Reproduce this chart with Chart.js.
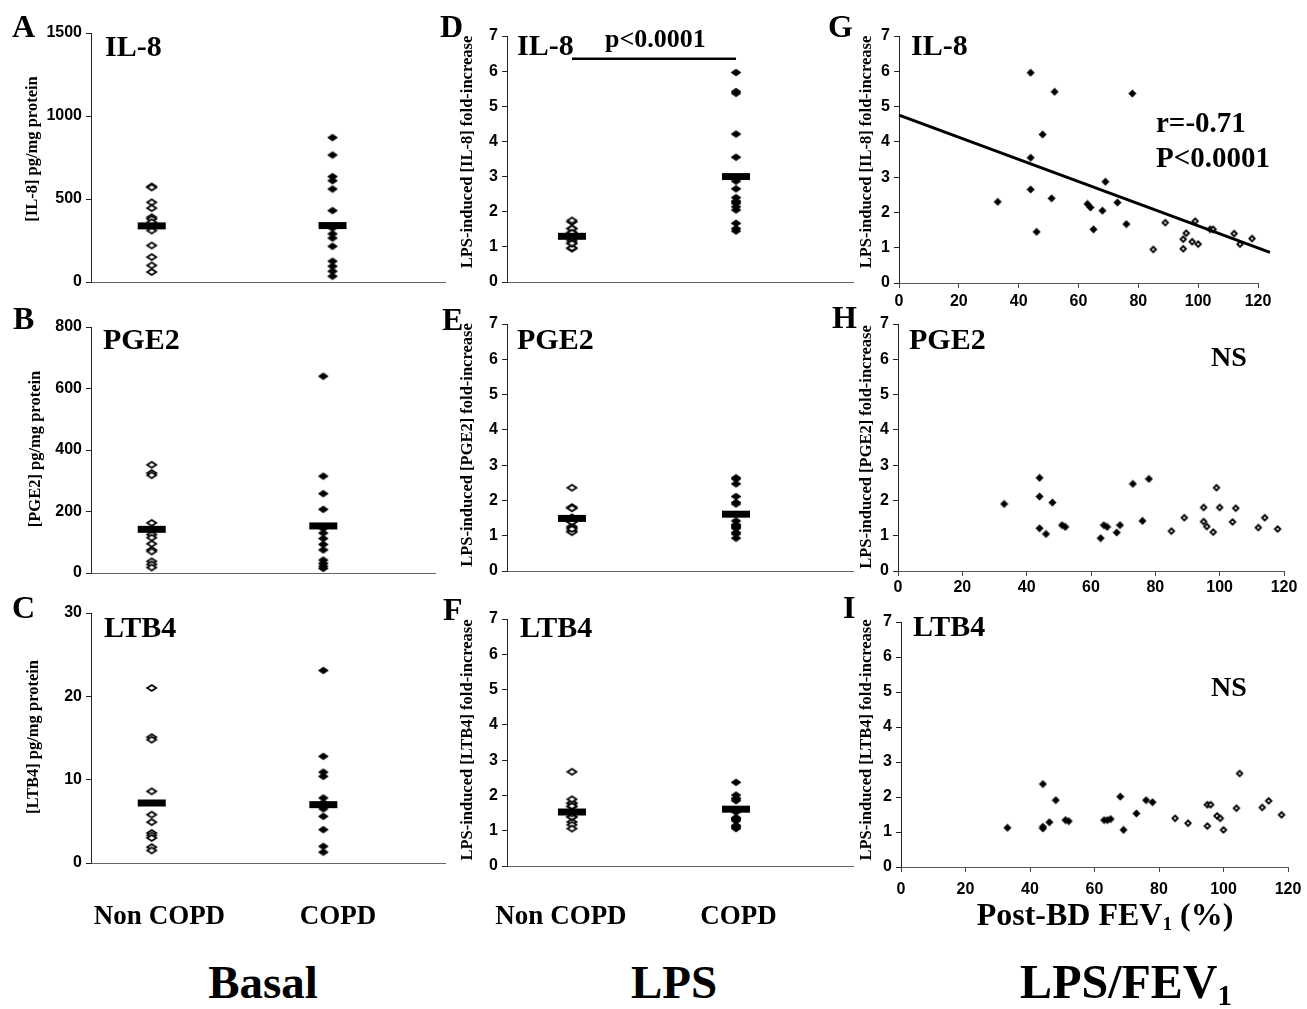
<!DOCTYPE html>
<html>
<head>
<meta charset="utf-8">
<script src="https://cdn.jsdelivr.net/npm/chart.js@4.4.1/dist/chart.umd.min.js"></script>
<style>
body { margin: 0; background: #fff; }
#fig { position: relative; width: 1307px; height: 1009px; overflow: hidden; background: #fff; }
#fig canvas { position: absolute; }
.t { position: absolute; font-family: "Liberation Serif", "Times New Roman", serif; font-weight: bold; line-height: 1; white-space: nowrap; color: #000; }
.yt { position: absolute; font-family: "Liberation Serif", "Times New Roman", serif; font-weight: bold; font-size: 16.5px; line-height: 1; white-space: nowrap; color: #000; transform: translate(-50%, -50%) rotate(-90deg); }
sub { font-size: 0.6em; line-height: 0; vertical-align: -0.25em; }
</style>
</head>
<body>
<div id="fig"></div>
<script>
// --- data ---
var groups = ["Non COPD", "COPD"];

// basal release, pg/mg protein
var il8BasalNon  = [575, 570, 480, 445, 390, 380, 360, 310, 220, 150, 100, 60];
var il8BasalCopd = [870, 765, 635, 610, 560, 430, 325, 290, 265, 215, 125, 95, 65, 35];
var il8BasalMean = [338, 340];
var pge2BasalNon  = [352, 325, 318, 163, 125, 115, 95, 75, 70, 38, 28, 18];
var pge2BasalCopd = [640, 315, 258, 207, 145, 130, 112, 93, 75, 42, 31, 22, 15];
var pge2BasalMean = [142, 153];
var ltb4BasalNon  = [21.0, 15.1, 14.8, 8.6, 5.8, 4.9, 3.6, 3.3, 3.0, 1.9, 1.5];
var ltb4BasalCopd = [23.1, 12.8, 10.9, 10.4, 7.8, 7.2, 6.5, 5.6, 4.0, 2.0, 1.3];
var ltb4BasalMean = [7.2, 7.0];

// post-BD FEV1 (%) per patient
var fev1Non  = [85, 89, 95, 95, 96, 98, 99, 100, 104, 105, 112, 114, 118];
var fev1Copd = [33, 44, 44, 44, 46, 48, 51, 52, 63, 64, 65, 68, 69, 73, 76, 78];

// LPS-induced fold-increase, same patient order as fev1 arrays
var il8LpsNon   = [0.95, 1.71, 1.24, 0.97, 1.41, 1.17, 1.75, 1.10, 1.52, 1.52, 1.40, 1.10, 1.26];
var il8LpsCopd  = [2.30, 5.96, 3.55, 2.65, 1.45, 4.21, 2.40, 5.42, 2.24, 2.14, 1.52, 2.05, 2.87, 2.28, 1.67, 5.37];
var il8LpsMean  = [1.30, 3.00];
var pge2LpsNon  = [1.13, 1.51, 1.80, 1.40, 1.26, 1.10, 2.36, 1.80, 1.39, 1.78, 1.23, 1.51, 1.19];
var pge2LpsCopd = [1.90, 2.64, 2.11, 1.21, 1.05, 1.94, 1.30, 1.25, 0.93, 1.30, 1.25, 1.09, 1.30, 2.47, 1.42, 2.61];
var pge2LpsMean = [1.49, 1.61];
var ltb4LpsNon  = [1.39, 1.25, 1.17, 1.78, 1.78, 1.46, 1.39, 1.06, 1.68, 2.67, 1.70, 1.89, 1.49];
var ltb4LpsCopd = [1.12, 2.37, 1.15, 1.10, 1.28, 1.91, 1.34, 1.31, 1.34, 1.34, 1.37, 2.01, 1.06, 1.53, 1.91, 1.85];
var ltb4LpsMean = [1.53, 1.61];

// regression line in G (ends) and p-value bracket in D
var il8TrendX = [0, 124];
var il8TrendY = [4.76, 0.87];
var bracketY = 6.35;

// tick labels
var il8BasalTicks  = [0, 500, 1000, 1500];
var pge2BasalTicks = [0, 200, 400, 600, 800];
var ltb4BasalTicks = [0, 10, 20, 30];
var foldTicks = [0, 1, 2, 3, 4, 5, 6, 7];
var fev1Ticks = [0, 20, 40, 60, 80, 100, 120];

// --- helpers ---
var fig = document.getElementById('fig');
var SANS = '"Liberation Sans", Arial, sans-serif';

function diamond(w, h, filled, lw) {
    var c = document.createElement('canvas');
    c.width = Math.ceil(w + lw * 2);
    c.height = Math.ceil(h + lw * 2);
    var g = c.getContext('2d');
    var cx = c.width / 2, cy = c.height / 2;
    g.beginPath();
    g.moveTo(cx, cy - h / 2);
    g.lineTo(cx + w / 2, cy);
    g.lineTo(cx, cy + h / 2);
    g.lineTo(cx - w / 2, cy);
    g.closePath();
    g.fillStyle = filled ? '#000' : '#fff';
    g.fill();
    g.lineWidth = lw;
    g.strokeStyle = '#000';
    g.stroke();
    return c;
}
var stripFilled = diamond(10, 7, true, 0.6);
var stripOpen = diamond(9, 6, false, 1.8);
var dotFilled = diamond(7.5, 7.5, true, 0.5);
var dotOpen = diamond(5.5, 5.5, false, 1.8);

function strip(vals, pos) { return vals.map(function (v) { return { x: pos, y: v }; }); }
function pairs(xs, ys) { return xs.map(function (x, i) { return { x: x, y: ys[i] }; }); }

function pts(data, img) {
    return { data: data, pointStyle: img, pointRadius: 4, pointHoverRadius: 4 };
}
function meanBar(pos, v) {
    return { data: [{ x: pos, y: v }], pointStyle: 'line', pointRadius: 14, pointBorderWidth: 7,
             pointBorderColor: '#000', pointBackgroundColor: '#000', pointHoverRadius: 14 };
}
function stripSets(non, copd, means) {
    return [
        meanBar(1, means[0]), meanBar(2, means[1]),
        pts(strip(copd, 2), stripFilled),
        pts(strip(non, 1), stripOpen)
    ];
}

var tickFont = { family: SANS, size: 16, weight: 'bold' };
function plain(v) { return String(v); }

function makeChart(p, datasets) {
    var cv = document.createElement('canvas');
    var W = p.r - p.l + 100, H = p.b - p.t + 60;
    cv.width = W; cv.height = H;
    cv.style.left = (p.l - 70) + 'px';
    cv.style.top = (p.t - 20) + 'px';
    cv.style.width = W + 'px';
    cv.style.height = H + 'px';
    fig.appendChild(cv);

    var xScale;
    if (p.scatter) {
        xScale = {
            type: 'linear', min: 0, max: 120,
            afterBuildTicks: function (s) { s.ticks = fev1Ticks.map(function (v) { return { value: v }; }); },
            afterFit: function (s) { s.height = 40; },
            ticks: { font: tickFont, color: '#000', padding: p.lp, maxRotation: 0, callback: plain },
            grid: { drawOnChartArea: false, tickLength: 5, color: '#444' },
            border: { color: '#555', width: 1 }
        };
    } else {
        xScale = {
            type: 'linear', min: p.xmin, max: p.xmax,
            afterFit: function (s) { s.height = 40; },
            ticks: { display: false },
            grid: { display: false },
            border: { color: '#666', width: 1 }
        };
    }

    return new Chart(cv.getContext('2d'), {
        type: 'scatter',
        data: { datasets: datasets },
        options: {
            responsive: false,
            animation: false,
            devicePixelRatio: 1,
            layout: { padding: { left: 0, top: 20, right: 30, bottom: 0 } },
            plugins: { legend: { display: false }, tooltip: { enabled: false } },
            scales: {
                x: xScale,
                y: {
                    type: 'linear', min: 0, max: p.ymax,
                    afterBuildTicks: function (s) { s.ticks = p.yticks.map(function (v) { return { value: v }; }); },
                    afterFit: function (s) { s.width = 70; },
                    ticks: { font: tickFont, color: '#000', padding: 4, callback: plain },
                    grid: { drawOnChartArea: false, tickLength: 5, color: '#222' },
                    border: { color: '#222', width: 1 }
                }
            }
        }
    });
}

function txt(html, x, base, size, center) {
    var d = document.createElement('div');
    d.className = 't';
    d.innerHTML = html;
    d.style.fontSize = size + 'px';
    d.style.left = x + 'px';
    d.style.top = (base - 0.8375 * size) + 'px';
    if (center) d.style.transform = 'translateX(-50%)';
    fig.appendChild(d);
}
function ytitle(s, cx, cy) {
    var d = document.createElement('div');
    d.className = 'yt';
    d.textContent = s;
    d.style.left = cx + 'px';
    d.style.top = cy + 'px';
    fig.appendChild(d);
}

// --- basal column ---
makeChart({ l: 91, t: 32, r: 445, b: 282, ymax: 1500, yticks: il8BasalTicks, xmin: 0.664, xmax: 2.622 },
    stripSets(il8BasalNon, il8BasalCopd, il8BasalMean));
makeChart({ l: 91, t: 326, r: 435, b: 573, ymax: 800, yticks: pge2BasalTicks, xmin: 0.646, xmax: 2.651 },
    stripSets(pge2BasalNon, pge2BasalCopd, pge2BasalMean));
makeChart({ l: 91, t: 612, r: 445, b: 863, ymax: 30, yticks: ltb4BasalTicks, xmin: 0.646, xmax: 2.709 },
    stripSets(ltb4BasalNon, ltb4BasalCopd, ltb4BasalMean));

// --- LPS column ---
var dSets = stripSets(il8LpsNon, il8LpsCopd, il8LpsMean);
dSets.unshift({ data: [{ x: 1, y: bracketY }, { x: 2, y: bracketY }], showLine: true,
                borderColor: '#000', borderWidth: 2.5, pointRadius: 0, clip: false });
makeChart({ l: 507, t: 35, r: 853, b: 282, ymax: 7, yticks: foldTicks, xmin: 0.604, xmax: 2.713 }, dSets);
makeChart({ l: 507, t: 323, r: 853, b: 571, ymax: 7, yticks: foldTicks, xmin: 0.604, xmax: 2.713 },
    stripSets(pge2LpsNon, pge2LpsCopd, pge2LpsMean));
makeChart({ l: 507, t: 618, r: 853, b: 866, ymax: 7, yticks: foldTicks, xmin: 0.604, xmax: 2.713 },
    stripSets(ltb4LpsNon, ltb4LpsCopd, ltb4LpsMean));

// --- LPS vs FEV1 column ---
makeChart({ scatter: true, l: 899, t: 36, r: 1258, b: 283, ymax: 7, yticks: foldTicks, lp: 4 }, [
    { data: pairs(il8TrendX, il8TrendY), showLine: true, borderColor: '#000', borderWidth: 3, pointRadius: 0, clip: false },
    pts(pairs(fev1Copd, il8LpsCopd), dotFilled),
    pts(pairs(fev1Non, il8LpsNon), dotOpen)
]);
makeChart({ scatter: true, l: 898, t: 324, r: 1284, b: 571, ymax: 7, yticks: foldTicks, lp: 2 }, [
    pts(pairs(fev1Copd, pge2LpsCopd), dotFilled),
    pts(pairs(fev1Non, pge2LpsNon), dotOpen)
]);
makeChart({ scatter: true, l: 901, t: 622, r: 1288, b: 867, ymax: 7, yticks: foldTicks, lp: 8 }, [
    pts(pairs(fev1Copd, ltb4LpsCopd), dotFilled),
    pts(pairs(fev1Non, ltb4LpsNon), dotOpen)
]);

// --- text ---
ytitle('[IL-8] pg/mg protein', 32, 148.5);
ytitle('[PGE2] pg/mg protein', 34.5, 448.5);
ytitle('[LTB4] pg/mg protein', 32.5, 737);
ytitle('LPS-induced [IL-8] fold-increase', 467, 151.5);
ytitle('LPS-induced [PGE2] fold-increase', 467, 445);
ytitle('LPS-induced [LTB4] fold-increase', 467, 740);
ytitle('LPS-induced [IL-8] fold-increase', 865.5, 151.5);
ytitle('LPS-induced [PGE2] fold-increase', 865.5, 446.5);
ytitle('LPS-induced [LTB4] fold-increase', 865.5, 739.5);

txt('A', 12, 37, 32); txt('B', 13, 329, 32); txt('C', 12, 618, 32);
txt('D', 440, 37, 32); txt('E', 442, 330, 32); txt('F', 443, 620, 32);
txt('G', 828, 37, 32); txt('H', 832, 328, 32); txt('I', 843, 618, 32);

txt('IL-8', 105, 56, 30); txt('PGE2', 103, 349, 30); txt('LTB4', 104, 637, 30);
txt('IL-8', 517, 55, 30); txt('PGE2', 517, 349, 30); txt('LTB4', 520, 637, 30);
txt('IL-8', 911, 55, 30); txt('PGE2', 909, 349, 30); txt('LTB4', 913, 636, 30);

txt('p&lt;0.0001', 605, 48, 26);
txt('r=-0.71', 1156, 132, 29);
txt('P&lt;0.0001', 1156, 167, 29);
txt('NS', 1211, 366, 28);
txt('NS', 1211, 696, 28);

txt(groups[0], 159.5, 925, 27, true); txt(groups[1], 338, 925, 27, true);
txt(groups[0], 561, 925, 27, true); txt(groups[1], 738.5, 925, 27, true);
txt('Post-BD FEV<sub>1</sub> (%)', 1105, 925, 32, true);

txt('Basal', 263, 998, 47, true);
txt('LPS', 674, 998, 47, true);
txt('LPS/FEV<sub>1</sub>', 1126, 998, 48, true);
</script>
</body>
</html>
